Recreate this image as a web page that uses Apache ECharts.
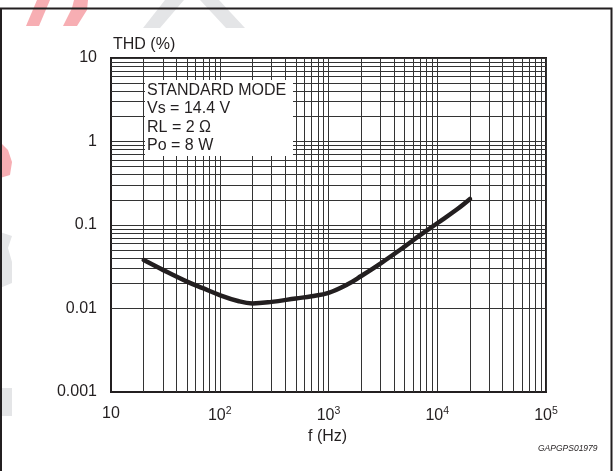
<!DOCTYPE html>
<html><head><meta charset="utf-8">
<script src="https://cdn.jsdelivr.net/npm/echarts@6/dist/echarts.min.js"></script>
<style>html,body{margin:0;padding:0;background:#fff}#c{width:613px;height:471px}</style>
</head><body><div id="c"></div>
<script>
// Data (THD vs frequency, log-log)
const freqHz = [20, 30, 50, 70, 100, 150, 200, 300, 500, 700, 1000, 1500, 2000, 3000, 5000, 7000, 10000, 15000, 20000];
const thdPct = [0.038, 0.029, 0.021, 0.0175, 0.0145, 0.0122, 0.0115, 0.012, 0.0132, 0.014, 0.0154, 0.0195, 0.0245, 0.0345, 0.055, 0.076, 0.105, 0.152, 0.205];
const xDecades = [10, 100, 1000, 10000, 100000];
const yDecades = [0.001, 0.01, 0.1, 1, 10];
const minorMult = [2, 3, 4, 5, 6, 7, 8, 9];
const boxLines = ['STANDARD MODE', 'Vs = 14.4 V', 'RL = 2 \u03A9', 'Po = 8 W'];

const xGrid = [], yGrid = [];
xDecades.slice(0, -1).forEach(d => minorMult.forEach(m => xGrid.push(d * m)));
yDecades.slice(0, -1).forEach(d => minorMult.forEach(m => yGrid.push(+(d * m).toPrecision(3))));
const gridMarks = xGrid.map(v => ({xAxis: v})).concat(yGrid.map(v => ({yAxis: v})));

const ink = '#231f20';
const font = '"Liberation Sans", Arial, sans-serif';
const chart = echarts.init(document.getElementById('c'), null, {renderer: 'canvas'});
chart.setOption({
  animation: false,
  grid: {left: 111, top: 58, width: 435, height: 334, show: true, borderColor: ink, borderWidth: 2, backgroundColor: 'transparent'},
  xAxis: {
    type: 'log', logBase: 10, min: 10, max: 100000,
    axisLine: {show: true, lineStyle: {color: ink, width: 2}},
    axisTick: {show: false},
    splitLine: {show: true, lineStyle: {color: '#333', width: 1}},
    axisLabel: {
      color: ink, fontFamily: font, fontSize: 16, margin: 14,
      formatter: v => {
        const e = Math.round(Math.log10(v));
        return e === 1 ? '10' : '10{s|' + e + '}';
      },
      rich: {s: {fontSize: 10.5, fontFamily: font, color: ink, padding: [0, 0, 8, 0]}}
    }
  },
  yAxis: {
    type: 'log', logBase: 10, min: 0.001, max: 10,
    axisLine: {show: true, lineStyle: {color: ink, width: 2}},
    axisTick: {show: false},
    splitLine: {show: true, lineStyle: {color: '#333', width: 1}},
    axisLabel: {
      color: ink, fontFamily: font, fontSize: 16, margin: 14,
      formatter: v => {
        const e = Math.round(Math.log10(v));
        return yDecades[e + 3] !== undefined ? String(yDecades[e + 3]) : '';
      }
    }
  },
  series: [
    {
      type: 'line', data: [], silent: true,
      markLine: {silent: true, symbol: 'none', animation: false, label: {show: false},
        lineStyle: {color: '#333', width: 1, type: 'solid'}, data: gridMarks}
    },
    {
      type: 'line', z: 5, smooth: 0.4, showSymbol: false, symbol: 'none',
      data: freqHz.map((f, i) => [f, thdPct[i]]),
      lineStyle: {color: ink, width: 4.5, cap: 'round'}
    }
  ],
  graphic: [
    // watermark fragments
    {type: 'polygon', z: -10, shape: {points: [[26,26],[37,0],[50,0],[39,26]]}, style: {fill: '#f7aeb3'}},
    {type: 'polygon', z: -10, shape: {points: [[63,26],[72,8],[74,0],[88,0],[87,10],[77,26]]}, style: {fill: '#f7aeb3'}},
    {type: 'polygon', z: -10, shape: {points: [[143,28],[165,0],[184,0],[160,28]]}, style: {fill: '#e4e5e7'}},
    {type: 'polygon', z: -10, shape: {points: [[200,0],[219,0],[245,28],[226,28]]}, style: {fill: '#e4e5e7'}},
    {type: 'polygon', z: -10, shape: {points: [[0,142],[8,150],[12,162],[10,175],[0,178]]}, style: {fill: '#f7aeb3'}},
    {type: 'polygon', z: -10, shape: {points: [[0,232],[12,236],[8,248],[12,262],[12,283],[0,288]]}, style: {fill: '#e4e5e7'}},
    {type: 'rect', z: -10, shape: {x: 0, y: 388, width: 12, height: 28}, style: {fill: '#e4e5e7'}},
    // outer frame
    {type: 'rect', z: 50, shape: {x: 1, y: 8.5, width: 610.5, height: 470}, style: {fill: 'none', stroke: ink, lineWidth: 2}},
    // annotation box
    {type: 'rect', z: 40, shape: {x: 145, y: 80, width: 148, height: 76}, style: {fill: '#fff'}},
    {type: 'text', z: 41, left: 147, top: 81, style: {text: boxLines.join('\n'), fill: ink, font: '16px ' + font, lineHeight: 18.5}},
    // axis titles
    {type: 'text', z: 41, left: 113, top: 37, style: {text: 'THD (%)', fill: ink, font: '16px ' + font}},
    {type: 'text', z: 41, left: 308, top: 429, style: {text: 'f (Hz)', fill: ink, font: '16px ' + font}},
    {type: 'text', z: 41, left: 538, top: 444, style: {text: 'GAPGPS01979', fill: ink, font: 'italic 8.5px ' + font}}
  ]
});
</script></body></html>
